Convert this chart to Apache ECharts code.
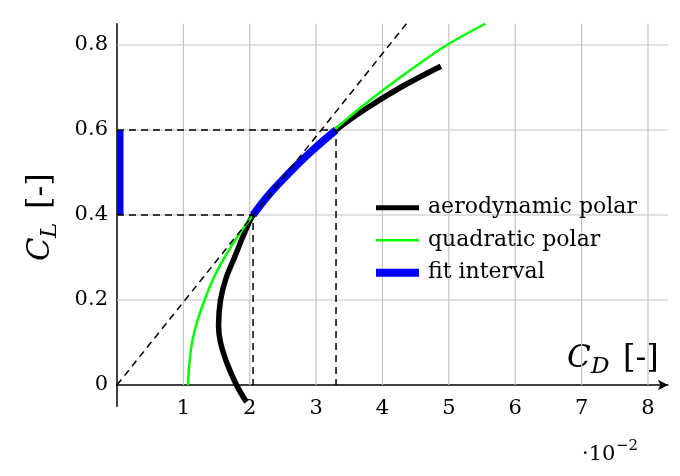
<!DOCTYPE html>
<html>
<head>
<meta charset="utf-8">
<script src="https://cdn.jsdelivr.net/npm/echarts@6/dist/echarts.min.js"></script>
<style>html,body{margin:0;padding:0;background:#fff}#c{width:680px;height:476px}</style>
</head>
<body>
<div id="c"></div>
<script>
// ---- data (C_D in units of 1e-2) ----
const xTicks = [1, 2, 3, 4, 5, 6, 7, 8];
const yTicks = [0, 0.2, 0.4, 0.6, 0.8];
const xMin = 0, xMax = 8.3, yMin = -0.05, yMax = 0.85;

const aeroCD = [1.95, 1.80, 1.66, 1.56, 1.53, 1.56, 1.64, 1.77, 1.90, 2.05, 2.30, 2.60, 2.93, 3.30, 3.75, 4.27, 4.88];
const aeroCL = [-0.04, 0.00, 0.05, 0.10, 0.14, 0.20, 0.25, 0.30, 0.35, 0.40, 0.45, 0.50, 0.55, 0.60, 0.65, 0.70, 0.75];

const quadCD = [1.07, 1.09, 1.13, 1.21, 1.32, 1.45, 1.62, 1.82, 2.05, 2.31, 2.60, 2.92, 3.27, 3.65, 4.06, 4.50, 4.97, 5.55];
const quadCL = [0.00, 0.05, 0.10, 0.15, 0.20, 0.25, 0.30, 0.35, 0.40, 0.45, 0.50, 0.55, 0.60, 0.65, 0.70, 0.75, 0.80, 0.85];

const fitCD = [2.05, 2.30, 2.60, 2.93, 3.30];
const fitCL = [0.40, 0.45, 0.50, 0.55, 0.60];
const fitAxisCD = 0;
const fitAxisCL = [0.40, 0.60];

const tangentCD = [0, 4.36];
const tangentCL = [0, 0.85];

const guideLowCD = [0, 2.05, 2.05];
const guideLowCL = [0.40, 0.40, 0.00];
const guideHighCD = [0, 3.30, 3.30];
const guideHighCL = [0.60, 0.60, 0.00];

const names = ['aerodynamic polar', 'quadratic polar', 'fit interval'];

// ---- helpers ----
const zip = (a, b) => a.map((v, i) => [v, b[i]]);
const FONT = 'DejaVu Serif';

const gridSeries = [];
xTicks.forEach(v => gridSeries.push({
  type: 'line', data: [[v, 0], [v, yMax]], symbol: 'none', silent: true, z: 1,
  lineStyle: { color: '#c4c4c4', width: 1.2 }, animation: false
}));
yTicks.filter(v => v !== 0).forEach(v => gridSeries.push({
  type: 'line', data: [[xMin, v], [xMax, v]], symbol: 'none', silent: true, z: 1,
  lineStyle: { color: '#c4c4c4', width: 1.2 }, animation: false
}));

const dashStyle = { color: '#000', width: 1.5, type: [7, 5] };
const dashed = (xs, ys) => ({
  type: 'line', data: zip(xs, ys), symbol: 'none', silent: true, z: 6,
  lineStyle: dashStyle, animation: false
});

const txt = (x, y, text, font) => ({
  type: 'text', x: x, y: y,
  style: { text: text, font: font, fill: '#000', align: 'left', verticalAlign: 'middle', textAlign: 'left', textVerticalAlign: 'middle' }
});

const chart = echarts.init(document.getElementById('c'), null, { renderer: 'canvas' });

chart.setOption({
  animation: false,
  backgroundColor: '#fff',
  grid: { left: 117, right: 12.1, top: 23.75, bottom: 69.75, containLabel: false },
  xAxis: {
    type: 'value', min: xMin, max: xMax, interval: 1,
    axisLine: { show: true, onZero: true, symbol: ['none', 'arrow'], symbolSize: [8, 10],
      lineStyle: { color: '#000', width: 1.5 } },
    axisTick: { show: false },
    splitLine: { show: false },
    axisLabel: {
      customValues: xTicks,
      formatter: v => (xTicks.indexOf(v) >= 0 ? String(v) : ''),
      margin: -8, fontFamily: FONT, fontSize: 21, color: '#000'
    }
  },
  yAxis: {
    type: 'value', min: yMin, max: yMax,
    axisLine: { show: true, onZero: false, lineStyle: { color: '#000', width: 1.5 } },
    axisTick: { show: false },
    splitLine: { show: false },
    axisLabel: {
      customValues: yTicks,
      formatter: v => (yTicks.indexOf(v) >= 0 ? String(v) : ''),
      margin: 9, fontFamily: FONT, fontSize: 21, color: '#000'
    }
  },
  legend: {
    orient: 'vertical', left: 376, top: 196.7, padding: 0,
    itemWidth: 43, itemHeight: 22, itemGap: 10.5,
    itemStyle: { borderWidth: 0 },
    textStyle: { fontFamily: FONT, fontSize: 22, color: '#000', lineHeight: 22, padding: [0, 0, 0, 4] },
    data: [
      { name: names[0], icon: 'path://M0,0H43V5H0Z' },
      { name: names[1], icon: 'path://M0,0H43V2.5H0Z' },
      { name: names[2], icon: 'path://M0,0H43V8H0Z' }
    ]
  },
  graphic: [
    { type: 'group', x: 567, y: 359, children: [
      txt(0, 0, 'C', 'italic 31px "DejaVu Serif"'),
      txt(24, 8, 'D', 'italic 23px "DejaVu Serif"'),
      txt(56, 0, '[-]', '32px "DejaVu Serif"')
    ] },
    { type: 'group', x: 41, y: 261, rotation: Math.PI / 2, children: [
      txt(0, 0, 'C', 'italic 31px "DejaVu Serif"'),
      txt(23, 9, 'L', 'italic 23px "DejaVu Serif"'),
      txt(52, 0, '[-]', '32px "DejaVu Serif"')
    ] },
    { type: 'group', x: 582, y: 454.5, children: [
      txt(0, 0, '\u00b710', '21px "DejaVu Serif"'),
      txt(34, -8, '\u22122', '15px "DejaVu Serif"')
    ] }
  ],
  series: gridSeries.concat([
    {
      name: names[0], type: 'line', data: zip(aeroCD, aeroCL), symbol: 'none', smooth: 0.4, z: 3,
      itemStyle: { color: '#000' }, lineStyle: { color: '#000', width: 5.5 }
    },
    {
      name: names[1], type: 'line', data: zip(quadCD, quadCL), symbol: 'none', smooth: 0.4, z: 4,
      itemStyle: { color: '#00ff00' }, lineStyle: { color: '#00ff00', width: 2.5 }
    },
    {
      name: names[2], type: 'line', data: zip(fitCD, fitCL), symbol: 'none', smooth: 0.4, z: 5,
      itemStyle: { color: '#0000ff' }, lineStyle: { color: '#0000ff', width: 7.5 }
    },
    {
      name: names[2], type: 'custom', z: 5, silent: true,
      encode: { x: 0, y: [1, 2] },
      data: [[fitAxisCD, fitAxisCL[0], fitAxisCL[1]]],
      itemStyle: { color: '#0000ff' },
      renderItem: (params, api) => {
        const p0 = api.coord([api.value(0), api.value(1)]);
        const p1 = api.coord([api.value(0), api.value(2)]);
        return { type: 'rect', shape: { x: p0[0], y: p1[1], width: 6.5, height: p0[1] - p1[1] }, style: { fill: '#0000ff' } };
      }
    },
    dashed(tangentCD, tangentCL),
    dashed(guideLowCD, guideLowCL),
    dashed(guideHighCD, guideHighCL)
  ])
});
</script>
</body>
</html>
